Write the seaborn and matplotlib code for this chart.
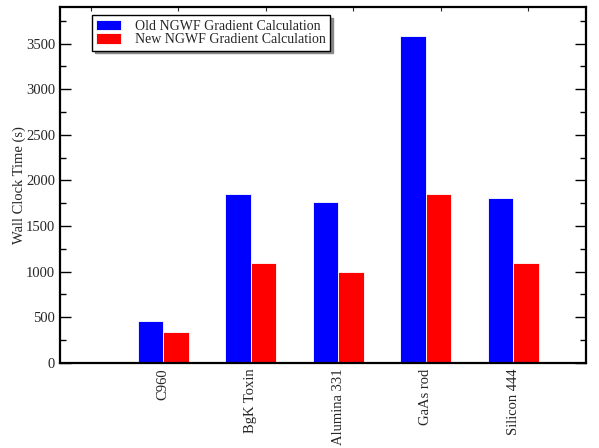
import matplotlib
matplotlib.use("Agg")
import matplotlib.pyplot as plt
from matplotlib.ticker import MultipleLocator, FixedLocator
import pandas as pd
import seaborn as sns

# 벤치마크 데이터
systems = ["C960", "BgK Toxin", "Alumina 331", "GaAs rod", "Silicon 444"]
old_time = [463, 1848, 1761, 3587, 1805]
new_time = [336, 1094, 995, 1848, 1090]
series = ["Old NGWF Gradient Calculation", "New NGWF Gradient Calculation"]

df = pd.DataFrame({
    "system": systems * 2,
    "time": old_time + new_time,
    "method": [series[0]] * len(systems) + [series[1]] * len(systems),
})

sns.set_theme(style="ticks")
plt.rcParams["font.family"] = ["Liberation Serif", "DejaVu Serif"]

fig, ax = plt.subplots(figsize=(5.99, 4.48), dpi=100)
fig.subplots_adjust(left=0.1, right=0.978, bottom=0.19, top=0.984)

sns.barplot(data=df, x="system", y="time", hue="method", order=systems,
            palette=["#0000ff", "#ff0000"], width=0.58, ax=ax,
            edgecolor="white", linewidth=0.6, saturation=1)

ax.set_xlim(-1.18, 4.83)
ax.set_ylim(0, 3900)
ax.set_xlabel("")
ax.set_ylabel("Wall Clock Time (s)", fontsize=10.5, labelpad=0)

# 축 눈금
ax.yaxis.set_major_locator(MultipleLocator(500))
ax.yaxis.set_minor_locator(MultipleLocator(250))
ax.tick_params(axis="y", which="both", direction="in", left=True, right=True,
               labelsize=10.5, width=1.0, color="black")
ax.tick_params(axis="y", which="major", length=8)
ax.tick_params(axis="y", which="minor", length=4)
ax.tick_params(axis="x", which="major", length=0, pad=4, labelsize=10.5)
ax.xaxis.set_minor_locator(FixedLocator([k + 0.171 for k in range(-1, 5)]))
ax.tick_params(axis="x", which="minor", direction="in", top=True, bottom=False,
               length=3, width=0.8)
plt.setp(ax.get_xticklabels(), rotation=90, ha="center", va="top")

for sp in ax.spines.values():
    sp.set_linewidth(1.6)
    sp.set_color("black")

leg = ax.legend(loc="upper left", bbox_to_anchor=(0.061, 0.977), fontsize=10,
                frameon=True, fancybox=False, shadow={"color": "#888888", "alpha": 1},
                handlelength=1.8, handleheight=0.8, borderpad=0.3,
                labelspacing=0.05, handletextpad=1.0, borderaxespad=0)
leg.get_frame().set_edgecolor("black")
leg.get_frame().set_linewidth(1.0)
leg.set_title(None)

fig.savefig("out.png")
